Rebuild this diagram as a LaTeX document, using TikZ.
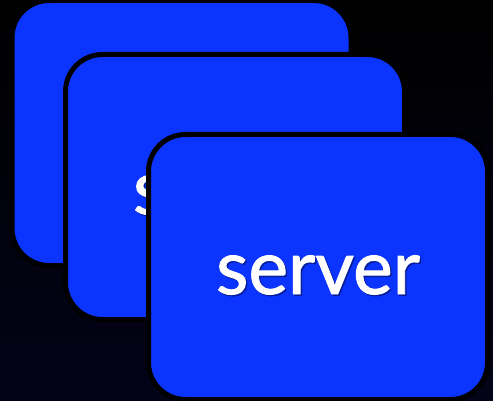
\documentclass[tikz,border=0pt]{standalone}
\usepackage{fontspec}
\setmainfont{Lato}[FakeBold=1.2]
\begin{document}
\begin{tikzpicture}[x=1pt,y=-1pt,
  card/.style={draw=black, line width=5pt, fill=cardblue, rounded corners=37pt,
    minimum width=339pt, minimum height=265pt, inner sep=0pt, rectangle},
  lbl/.style={text=white, font=\fontsize{75}{80}\selectfont, inner sep=0pt},
  shd/.style={text=black, text opacity=0.3, font=\fontsize{75}{80}\selectfont, inner sep=0pt}]
\definecolor{cardblue}{RGB}{12,52,255}
\definecolor{bgbot}{RGB}{3,3,24}
\useasboundingbox (0,0) rectangle (493,401);
\shade[top color=black, bottom color=bgbot] (0,0) rectangle (493,401);
% back card
\node[card] (b1) at (181.5,133) {};
% middle card
\node[card] (b2) at (235,187) {};
\node[shd] (s2) at ([xshift=1.5pt,yshift=-9.5pt]b2.center) {server};
\node[lbl] (t2) at ([yshift=-8pt]b2.center) {server};
% front card
\node[card] (b3) at (318,267) {};
\node[shd] (s3) at ([xshift=1.5pt,yshift=-9.5pt]b3.center) {server};
\node[lbl] (t3) at ([yshift=-8pt]b3.center) {server};
\end{tikzpicture}
\end{document}
